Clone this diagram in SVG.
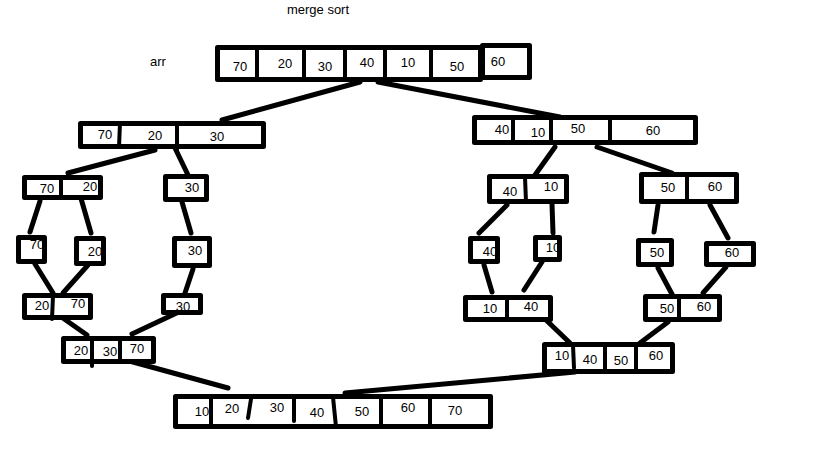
<svg xmlns="http://www.w3.org/2000/svg" width="819" height="460" viewBox="0 0 819 460">
<style>
.b{fill:#fff;stroke:#000;stroke-width:5;stroke-linejoin:round}
.d{stroke:#000;stroke-width:4;stroke-linecap:round}
.c line{stroke:#000;stroke-width:5;stroke-linecap:round}
text{font-family:"Liberation Sans",Arial,sans-serif;font-size:13px;fill:#000;text-anchor:middle}
</style>
<rect width="819" height="460" fill="#fff"/>
<text x="318" y="14">merge sort</text>
<text x="158" y="66">arr</text>
<g class="c" id="connectors">
<line x1="360" y1="82" x2="222" y2="120"/>
<line x1="378" y1="82" x2="560" y2="117"/>
<line x1="155" y1="150" x2="68" y2="173"/>
<line x1="175" y1="148" x2="188" y2="175"/>
<line x1="555" y1="147" x2="535" y2="175"/>
<line x1="597" y1="147" x2="672" y2="173"/>
<line x1="40" y1="201" x2="30" y2="232"/>
<line x1="80" y1="195" x2="91" y2="233"/>
<line x1="182" y1="202" x2="191" y2="233"/>
<line x1="35" y1="264" x2="53" y2="293"/>
<line x1="88" y1="265" x2="63" y2="293"/>
<line x1="193" y1="269" x2="185" y2="293"/>
<line x1="60" y1="316" x2="87" y2="335"/>
<line x1="183" y1="310" x2="132" y2="334"/>
<line x1="122" y1="359" x2="228" y2="388"/>
<line x1="507" y1="205" x2="479" y2="233"/>
<line x1="552" y1="204" x2="553" y2="233"/>
<line x1="658" y1="205" x2="654" y2="232"/>
<line x1="710" y1="205" x2="728" y2="238"/>
<line x1="484" y1="265" x2="492" y2="292"/>
<line x1="542" y1="262" x2="524" y2="290"/>
<line x1="658" y1="268" x2="673" y2="296"/>
<line x1="726" y1="267" x2="703" y2="293"/>
<line x1="545" y1="319" x2="570" y2="343"/>
<line x1="668" y1="322" x2="640" y2="343"/>
<line x1="575" y1="372" x2="345" y2="393"/>
</g>
<g id="n-top">
<rect class="b" x="217.5" y="47.5" width="263" height="32"/>
<rect class="b" x="482.5" y="45.5" width="47" height="32"/>
<line class="d" x1="257" y1="48" x2="257" y2="79"/>
<line class="d" x1="304" y1="48" x2="304" y2="79"/>
<line class="d" x1="345" y1="48" x2="345" y2="80"/>
<line class="d" x1="385" y1="48" x2="385" y2="79"/>
<line class="d" x1="431" y1="48" x2="431" y2="79"/>
<text x="240" y="71">70</text><text x="285" y="68">20</text><text x="325" y="71">30</text><text x="367" y="67">40</text><text x="408" y="67">10</text><text x="457" y="71">50</text><text x="498" y="66">60</text>
</g>
<g id="n-l2l">
<rect class="b" x="80.5" y="123.5" width="183" height="23"/>
<line class="d" x1="120" y1="123" x2="119" y2="147"/>
<line class="d" x1="177" y1="123" x2="177" y2="150"/>
<text x="105" y="139">70</text><text x="155" y="140">20</text><text x="217" y="141">30</text>
</g>
<g id="n-l2r">
<rect class="b" x="474.5" y="117.5" width="221" height="25"/>
<line class="d" x1="513" y1="118" x2="513" y2="143"/>
<line class="d" x1="551" y1="118" x2="551" y2="143"/>
<line class="d" x1="610" y1="118" x2="610" y2="143"/>
<text x="502" y="134">40</text><text x="538" y="137">10</text><text x="578" y="133">50</text><text x="653" y="135">60</text>
</g>
<g id="n-7020">
<rect class="b" x="24.5" y="177.5" width="76" height="20"/>
<line class="d" x1="61" y1="178" x2="61" y2="198"/>
<text x="47" y="193">70</text><text x="90" y="191">20</text>
</g>
<g id="n-30a">
<rect class="b" x="165.5" y="176.5" width="41" height="23"/>
<text x="192" y="192">30</text>
</g>
<g id="n-70">
<rect class="b" x="18.5" y="237.5" width="26" height="24"/>
<text x="37" y="249">70</text>
</g>
<g id="n-20">
<rect class="b" x="76.5" y="238.5" width="27" height="25"/>
<text x="95" y="256">20</text>
</g>
<g id="n-30b">
<rect class="b" x="174.5" y="238.5" width="35" height="27"/>
<text x="195" y="255">30</text>
</g>
<g id="n-2070">
<rect class="b" x="24.5" y="295.5" width="66" height="22"/>
<line class="d" x1="53" y1="296" x2="52" y2="319"/>
<text x="42" y="310">20</text><text x="78" y="308">70</text>
</g>
<g id="n-30c">
<rect class="b" x="163.5" y="295.5" width="37" height="17"/>
<text x="183" y="311">30</text>
</g>
<g id="n-203070">
<rect class="b" x="63.5" y="338.5" width="90" height="23"/>
<line class="d" x1="92" y1="339" x2="92" y2="366"/>
<line class="d" x1="120" y1="339" x2="120" y2="362"/>
<text x="81" y="355">20</text><text x="110" y="356">30</text><text x="137" y="353">70</text>
</g>
<g id="n-4010">
<rect class="b" x="489.5" y="176.5" width="77" height="25"/>
<line class="d" x1="525" y1="177" x2="526" y2="202"/>
<text x="510" y="196">40</text><text x="551" y="191">10</text>
</g>
<g id="n-5060a">
<rect class="b" x="641.5" y="174.5" width="95" height="27"/>
<line class="d" x1="687" y1="175" x2="687" y2="202"/>
<text x="668" y="192">50</text><text x="715" y="191">60</text>
</g>
<g id="n-40">
<rect class="b" x="470.5" y="238.5" width="27" height="23"/>
<text x="490" y="256">40</text>
</g>
<g id="n-10">
<rect class="b" x="535.5" y="237.5" width="24" height="22"/>
<text x="553" y="252">10</text>
</g>
<g id="n-50">
<rect class="b" x="638.5" y="240.5" width="33" height="24"/>
<text x="657" y="257">50</text>
</g>
<g id="n-60">
<rect class="b" x="706.5" y="243.5" width="47" height="21"/>
<text x="732" y="257">60</text>
</g>
<g id="n-1040">
<rect class="b" x="465.5" y="297.5" width="85" height="22"/>
<line class="d" x1="507" y1="298" x2="507" y2="320"/>
<text x="490" y="313">10</text><text x="531" y="311">40</text>
</g>
<g id="n-5060b">
<rect class="b" x="645.5" y="296.5" width="74" height="23"/>
<line class="d" x1="679" y1="297" x2="679" y2="320"/>
<text x="667" y="313">50</text><text x="704" y="311">60</text>
</g>
<g id="n-10405060">
<rect class="b" x="544.5" y="344.5" width="128" height="27"/>
<line class="d" x1="573" y1="345" x2="574" y2="368"/>
<line class="d" x1="605" y1="345" x2="605" y2="372"/>
<line class="d" x1="636" y1="345" x2="636" y2="372"/>
<text x="562" y="360">10</text><text x="590" y="364">40</text><text x="621" y="365">50</text><text x="656" y="360">60</text>
</g>
<g id="n-bottom">
<rect class="b" x="175.5" y="396.5" width="315" height="30"/>
<line class="d" x1="211" y1="397" x2="211" y2="427"/>
<line class="d" x1="251" y1="399" x2="248" y2="418"/>
<line class="d" x1="294" y1="397" x2="294" y2="421"/>
<line class="d" x1="333" y1="397" x2="336" y2="427"/>
<line class="d" x1="381" y1="397" x2="381" y2="427"/>
<line class="d" x1="430" y1="397" x2="430" y2="427"/>
<text x="202" y="416">10</text><text x="232" y="413">20</text><text x="277" y="412">30</text><text x="317" y="417">40</text><text x="362" y="416">50</text><text x="408" y="412">60</text><text x="455" y="415">70</text>
</g>
</svg>
